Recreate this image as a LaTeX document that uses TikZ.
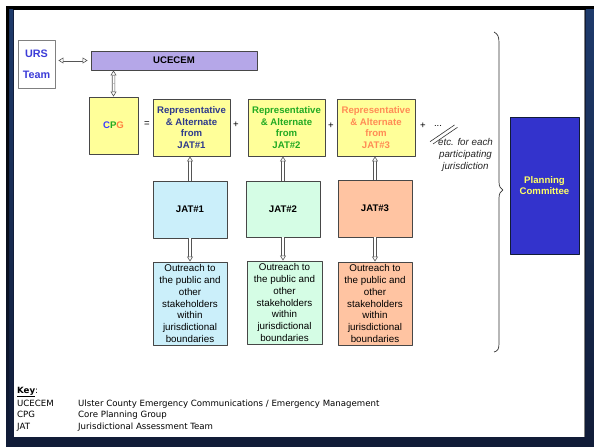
\documentclass[tikz,border=0pt]{standalone}
\usepackage{fontspec}
\setmainfont{Liberation Sans}
\newfontfamily\keyfont{DejaVu Sans}
\usetikzlibrary{arrows.meta,calc}
\definecolor{framenavy}{HTML}{111C38}
\definecolor{frameblue}{HTML}{1E3A6B}
\definecolor{boxgray}{HTML}{474747}
\definecolor{arrowgray}{HTML}{555555}
\definecolor{lavender}{HTML}{B5A7E8}
\definecolor{paleyellow}{HTML}{FFFF99}
\definecolor{paleblue}{HTML}{CBEFFA}
\definecolor{palemint}{HTML}{D5FDE5}
\definecolor{salmon}{HTML}{FFC4A2}
\definecolor{royal}{HTML}{3333CC}
\definecolor{ursblue}{HTML}{3C3CD8}
\definecolor{repblue}{HTML}{2E3A8C}
\definecolor{repgreen}{HTML}{22AA22}
\definecolor{reporange}{HTML}{FF8C55}
\definecolor{cpgblue}{HTML}{3C3CFF}
\definecolor{cpgorange}{HTML}{FF8040}
\definecolor{pcyellow}{HTML}{FFFF66}
\begin{document}
\begin{tikzpicture}[>=latex,line join=bevel,
  box/.style={draw=boxgray,line width=0.9bp,inner sep=0pt,align=center,font={\bfseries\fontsize{9.6bp}{11.5bp}\selectfont}},
  outbox/.style={box,font={\fontsize{9.8bp}{11.8bp}\selectfont}},
  sign/.style={inner sep=0pt,font={\fontsize{9.6bp}{11.5bp}\selectfont}},
  keytext/.style={anchor=base west,inner sep=0pt,font={\keyfont\fontsize{8.6bp}{11.7bp}\selectfont}},
  htip/.tip={Triangle[open,fill=white,length=5bp,width=6bp]},
  hollow/.style={draw=arrowgray,line width=0.6bp,double=white,double distance=2bp},
  ]
\useasboundingbox (0bp,0bp) rectangle (594bp,447bp);
%% frame
\fill[framenavy] (6bp,0bp) rectangle (594bp,441bp);
\fill[black] (6bp,437bp) rectangle (594bp,441bp);
\shade[top color=frameblue,bottom color=framenavy] (9bp,0bp) rectangle (13bp,437bp);
\shade[top color=black,bottom color=framenavy] (6bp,0bp) rectangle (9bp,437bp);
\shade[top color=frameblue,bottom color=framenavy] (586bp,0bp) rectangle (594bp,437bp);
\fill[white] (14bp,10bp) rectangle (584bp,437bp);
\draw[gray,line width=1bp] (584.5bp,10bp) -- (584.5bp,437bp);
%%
\node (node_urs) at (36.5bp,383bp) [box,fill=white,draw=gray,minimum width=37bp,minimum height=48bp,text=ursblue,font={\bfseries\fontsize{10.8bp}{21bp}\selectfont}] {URS\\Team};
  \node (node_ucecem) at (174bp,386.5bp) [box,fill=lavender,minimum width=166bp,minimum height=19bp] {UCECEM};
  \node (node_cpg) at (113.5bp,321.5bp) [box,fill=paleyellow,minimum width=49bp,minimum height=57bp] {\textcolor{cpgblue}{C}\textcolor{repgreen}{P}\textcolor{cpgorange}{G}};
  \node (node_eq) at (147bp,323bp) [sign] {=};
  \node (node_rep_1) at (191.5bp,319.5bp) [box,fill=paleyellow,minimum width=77bp,minimum height=57bp,text=repblue] {Representative\\\& Alternate\\from\\JAT\#1};
  \node (node_plus_1) at (236bp,322bp) [sign] {+};
  \node (node_rep_2) at (286.5bp,319.5bp) [box,fill=paleyellow,minimum width=77bp,minimum height=57bp,text=repgreen] {Representative\\\& Alternate\\from\\JAT\#2};
  \node (node_plus_2) at (331bp,321bp) [sign] {+};
  \node (node_rep_3) at (376bp,319.5bp) [box,fill=paleyellow,minimum width=78bp,minimum height=57bp,text=reporange] {Representative\\\& Alternate\\from\\JAT\#3};
  \node (node_plus_3) at (423bp,321bp) [sign] {+};
  \node (node_dots) at (438bp,321bp) [sign] {...};
  \node (node_etc) at (465.5bp,292bp) [align=center,inner sep=0pt,text=black!85,font={\itshape\fontsize{9.8bp}{12bp}\selectfont}] {etc. for each\\participating\\jurisdiction};
  \node (node_planning) at (544.5bp,261.5bp) [box,fill=royal,draw=framenavy,minimum width=69bp,minimum height=137bp,text=pcyellow] {Planning\\Committee};
  \node (node_jat_1) at (190bp,237.5bp) [box,fill=paleblue,minimum width=74bp,minimum height=57bp] {JAT\#1};
  \node (node_jat_2) at (283bp,238bp) [box,fill=palemint,minimum width=74bp,minimum height=56bp] {JAT\#2};
  \node (node_jat_3) at (375bp,238.5bp) [box,fill=salmon,minimum width=74bp,minimum height=57bp] {JAT\#3};
  \node (node_out_1) at (190bp,143.5bp) [outbox,fill=paleblue,minimum width=74bp,minimum height=83bp] {Outreach to\\the public and\\other\\stakeholders\\within\\jurisdictional\\boundaries};
  \node (node_out_2) at (284.5bp,144.5bp) [outbox,fill=palemint,minimum width=75bp,minimum height=83bp] {Outreach to\\the public and\\other\\stakeholders\\within\\jurisdictional\\boundaries};
  \node (node_out_3) at (375bp,143.5bp) [outbox,fill=salmon,minimum width=74bp,minimum height=83bp] {Outreach to\\the public and\\other\\stakeholders\\within\\jurisdictional\\boundaries};
  \coordinate (end_urs) at ($(node_urs.east |- node_ucecem.west)+(3bp,0bp)$);
  \coordinate (end_ucecem) at ($(node_ucecem.west)+(-3bp,0bp)$);
  \coordinate (mid_urs) at ($(end_urs)!0.5!(end_ucecem)$);
  \coordinate (mid_cpg) at ($(node_cpg.north)!0.5!(node_cpg.north |- node_ucecem.south)$);
  \draw [hollow,-htip] (mid_urs) -- (end_ucecem);
  \draw [hollow,-htip] (mid_urs) -- (end_urs);
  \draw [hollow,-htip] (mid_cpg) -- (node_cpg.north);
  \draw [hollow,-htip] (mid_cpg) -- (node_cpg.north |- node_ucecem.south);
  \draw [hollow,-htip] (node_jat_1.north) -- (node_jat_1.north |- node_rep_1.south);
  \draw [hollow,-htip] (node_jat_2.north) -- (node_jat_2.north |- node_rep_2.south);
  \draw [hollow,-htip] (node_jat_3.north) -- (node_jat_3.north |- node_rep_3.south);
  \draw [hollow,-htip] (node_jat_1.south) -- (node_jat_1.south |- node_out_1.north);
  \draw [hollow,-htip] (node_jat_2.south) -- (node_jat_2.south |- node_out_2.north);
  \draw [hollow,-htip] (node_jat_3.south) -- (node_jat_3.south |- node_out_3.north);
%
\draw [black!80,line width=0.6bp] (430bp,305.3bp) -- (454.5bp,322bp);
  \draw [black!80,line width=0.6bp] (433bp,303bp) -- (457.5bp,319.7bp);
  \draw [black!80,line width=0.7bp] (494bp,415bp) ..controls (498bp,413bp) and (499bp,410bp) .. (499bp,404bp) -- (499bp,265bp) ..controls (499bp,260bp) and (501bp,258bp) .. (503bp,257bp) ..controls (501bp,256bp) and (499bp,254bp) .. (499bp,249bp) -- (499bp,104bp) ..controls (499bp,98bp) and (498bp,96bp) .. (494bp,95bp);
%% key
\node (node_key) at (17bp,53.7bp) [keytext] {\textbf{\underline{Key}}:};
  \node (node_key_a) at (17bp,40.5bp) [keytext] {UCECEM};
  \node (node_key_b) at (17bp,29.5bp) [keytext] {CPG};
  \node (node_key_c) at (17bp,17.5bp) [keytext] {JAT};
  \node (node_def_a) at (78bp,40.5bp) [keytext] {Ulster County Emergency Communications / Emergency Management};
  \node (node_def_b) at (78bp,29.5bp) [keytext] {Core Planning Group};
  \node (node_def_c) at (78bp,17.5bp) [keytext] {Jurisdictional Assessment Team};
%
\end{tikzpicture}
\end{document}
